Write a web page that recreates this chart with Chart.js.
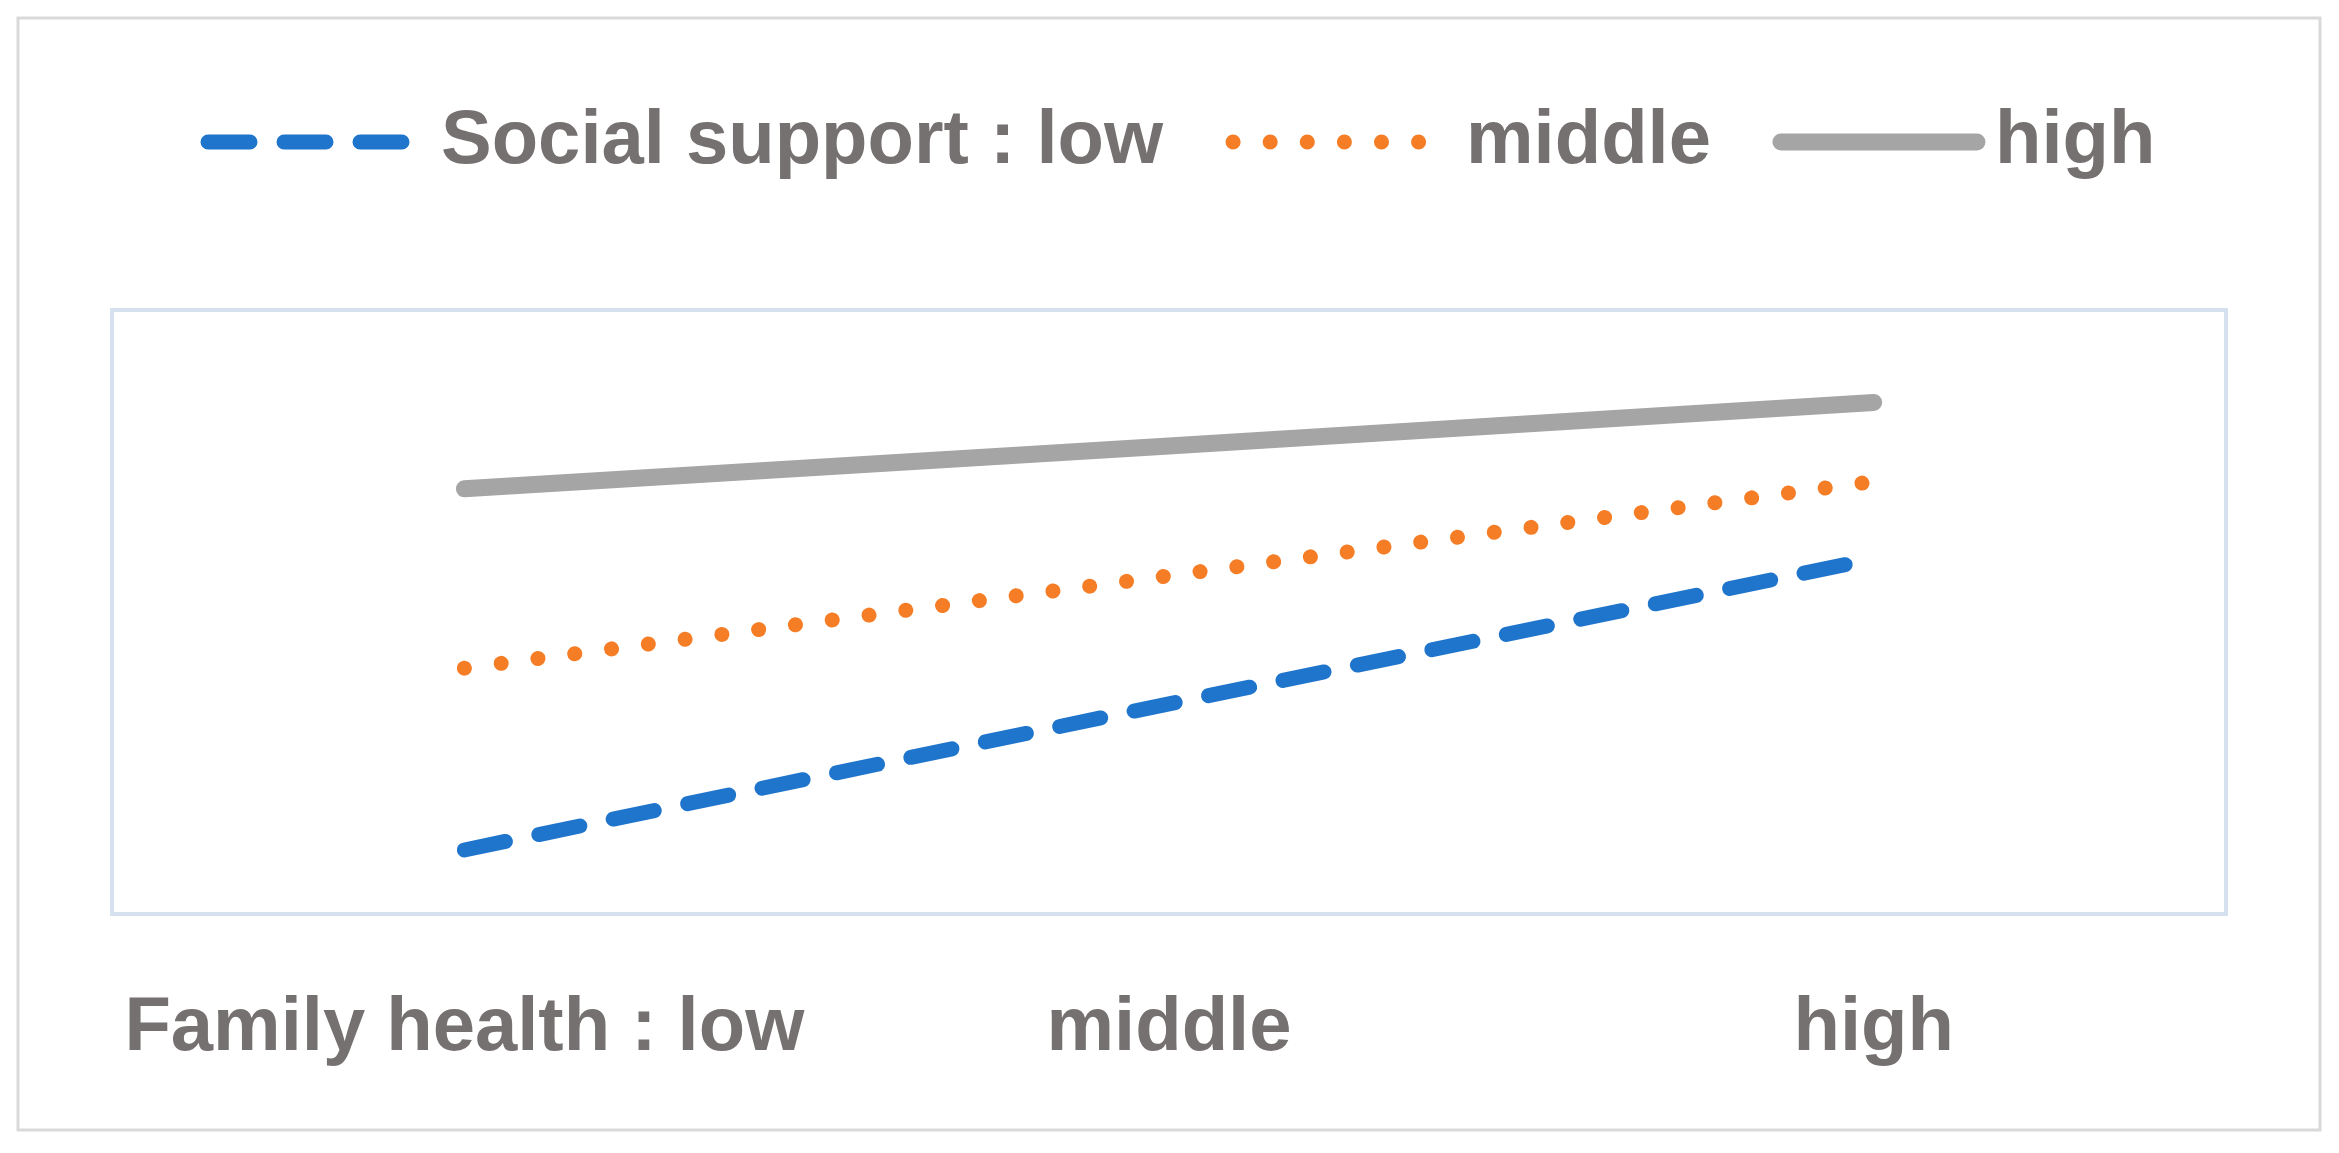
<!DOCTYPE html>
<html><head><meta charset="utf-8">
<script src="https://cdn.jsdelivr.net/npm/chart.js@4"></script>
<style>html,body{margin:0;padding:0;background:#fff}#wrap{width:2339px;height:1153px}</style>
</head><body><div id="wrap"><canvas id="c"></canvas></div>
<script>
const categories = ["Family health : low", "middle", "high"];
const seriesNames = ["Social support : low", "middle", "high"];
const lowValues = [1.06, 3.48, 5.88];
const middleValues = [4.07, 5.6, 7.16];
const highValues = [7.04, 7.75, 8.47];

const TXT = '#767171';
const FONT = 'bold 76px "Liberation Sans", Arial, sans-serif';

const deco = {
  id: 'deco',
  afterDraw(chart) {
    const ctx = chart.ctx, a = chart.chartArea, xs = chart.scales.x;
    ctx.save();
    ctx.strokeStyle = '#d9d9d9'; ctx.lineWidth = 3; ctx.setLineDash([]);
    ctx.strokeRect(18, 18, 2302, 1112);
    ctx.strokeStyle = '#d5e1ef'; ctx.lineWidth = 4;
    ctx.strokeRect(a.left, a.top, a.right - a.left, a.bottom - a.top);
    ctx.font = FONT; ctx.fillStyle = TXT; ctx.textBaseline = 'middle'; ctx.textAlign = 'center';
    categories.forEach((c, i) => ctx.fillText(c, xs.getPixelForValue(i), 1029));
    // legend
    ctx.textAlign = 'left';
    let x = 208; const y = 142;
    const gaps = [37, 37, 18];
    chart.data.datasets.forEach((ds, i) => {
      ctx.strokeStyle = ds.borderColor; ctx.lineWidth = ds.borderWidth;
      ctx.lineCap = 'round'; ctx.setLineDash(ds.borderDash || []);
      ctx.beginPath(); ctx.moveTo(x, y); ctx.lineTo(x + 196, y); ctx.stroke();
      ctx.setLineDash([]);
      ctx.fillText(ds.label, x + 196 + gaps[i], y);
      x += 196 + gaps[i] + ctx.measureText(ds.label).width + 70;
    });
    ctx.restore();
  }
};

new Chart(document.getElementById('c'), {
  type: 'line',
  data: {
    labels: categories,
    datasets: [
      {label: seriesNames[0], data: lowValues, borderColor: '#1f74cc', borderWidth: 15, borderDash: [42, 34], borderCapStyle: 'round', pointRadius: 0, tension: 0},
      {label: seriesNames[1], data: middleValues, borderColor: '#f47d26', borderWidth: 15, borderDash: [0.1, 37], borderCapStyle: 'round', pointRadius: 0, tension: 0},
      {label: seriesNames[2], data: highValues, borderColor: '#a5a5a5', borderWidth: 17, borderCapStyle: 'round', pointRadius: 0, tension: 0}
    ]
  },
  options: {
    responsive: true, maintainAspectRatio: false, animation: false,
    layout: {padding: {left: 112, right: 113, top: 310, bottom: 239}},
    plugins: {legend: {display: false}, tooltip: {enabled: false}},
    scales: {
      x: {display: false, offset: true},
      y: {display: false, min: 0, max: 10}
    }
  },
  plugins: [deco]
});
</script></body></html>
